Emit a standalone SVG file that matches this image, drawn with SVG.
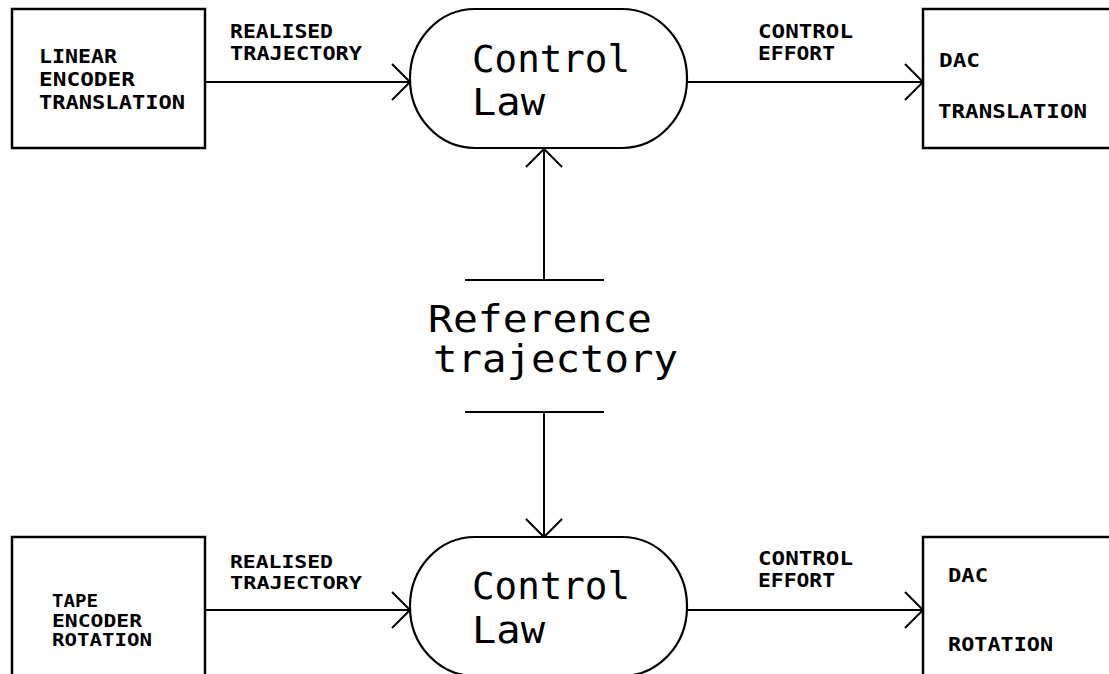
<svg xmlns="http://www.w3.org/2000/svg" width="1109" height="674" viewBox="0 0 1109 674">
<style>
.box{fill:none;stroke:#000;stroke-width:2.5}
.pill{fill:#fff;stroke:#000;stroke-width:2.2}
.ln{fill:none;stroke:#000;stroke-width:2}
.lbl{font-family:"DejaVu Sans Mono","Liberation Mono",monospace;font-weight:bold;font-size:20px;fill:#000}
.sm{font-size:17px}
.md{font-size:18.5px}
.big{font-family:"DejaVu Sans Mono","Liberation Mono",monospace;font-size:37px;fill:#000}
</style>
<defs>
<marker id="arr" markerWidth="24" markerHeight="40" refX="20" refY="20" orient="auto" markerUnits="userSpaceOnUse">
<path d="M2,2 L20,20 L2,38" fill="none" stroke="#000" stroke-width="2"/>
</marker>
</defs>
<rect width="1109" height="674" fill="#fff"/>
<g id="connectors">
<line class="ln" x1="205" y1="82" x2="410" y2="82" marker-end="url(#arr)"/>
<line class="ln" x1="687" y1="82" x2="923" y2="82" marker-end="url(#arr)"/>
<line class="ln" x1="544" y1="280" x2="544" y2="149" marker-end="url(#arr)"/>
<line class="ln" x1="544" y1="412" x2="544" y2="537" marker-end="url(#arr)"/>
<line class="ln" x1="205" y1="610" x2="410" y2="610" marker-end="url(#arr)"/>
<line class="ln" x1="687" y1="610" x2="923" y2="610" marker-end="url(#arr)"/>
<text class="lbl" x="230" y="38" textLength="103" lengthAdjust="spacingAndGlyphs">REALISED</text>
<text class="lbl" x="230" y="60" textLength="132" lengthAdjust="spacingAndGlyphs">TRAJECTORY</text>
<text class="lbl" x="758" y="38" textLength="95" lengthAdjust="spacingAndGlyphs">CONTROL</text>
<text class="lbl" x="758" y="60" textLength="77" lengthAdjust="spacingAndGlyphs">EFFORT</text>
<text class="lbl md" x="230" y="568" textLength="103" lengthAdjust="spacingAndGlyphs">REALISED</text>
<text class="lbl md" x="230" y="589" textLength="132" lengthAdjust="spacingAndGlyphs">TRAJECTORY</text>
<text class="lbl" x="758" y="565" textLength="95" lengthAdjust="spacingAndGlyphs">CONTROL</text>
<text class="lbl" x="758" y="587" textLength="77" lengthAdjust="spacingAndGlyphs">EFFORT</text>
</g>
<g id="ref-trajectory">
<line class="ln" x1="465" y1="280" x2="604" y2="280"/>
<line class="ln" x1="465" y1="412" x2="604" y2="412"/>
<text class="big" x="428" y="332" textLength="224" lengthAdjust="spacingAndGlyphs">Reference</text>
<text class="big" x="433" y="372" textLength="245" lengthAdjust="spacingAndGlyphs">trajectory</text>
</g>
<g id="linear-encoder">
<rect class="box" x="12" y="9" width="193" height="139"/>
<text class="lbl" x="39" y="63" textLength="78" lengthAdjust="spacingAndGlyphs">LINEAR</text>
<text class="lbl" x="39" y="86" textLength="96" lengthAdjust="spacingAndGlyphs">ENCODER</text>
<text class="lbl" x="39" y="109" textLength="146" lengthAdjust="spacingAndGlyphs">TRANSLATION</text>
</g>
<g id="control-law-top">
<rect class="pill" x="410" y="9" width="277" height="139" rx="65" ry="69"/>
<text class="big" x="472" y="72" textLength="158" lengthAdjust="spacingAndGlyphs">Control</text>
<text class="big" x="472" y="115" textLength="73" lengthAdjust="spacingAndGlyphs">Law</text>
</g>
<g id="dac-translation">
<rect class="box" x="923" y="9" width="200" height="139"/>
<text class="lbl" x="939" y="67" textLength="41" lengthAdjust="spacingAndGlyphs">DAC</text>
<text class="lbl" x="938" y="118" textLength="149" lengthAdjust="spacingAndGlyphs">TRANSLATION</text>
</g>
<g id="tape-encoder">
<rect class="box" x="12" y="537" width="193" height="150"/>
<text class="lbl sm" x="52" y="607" textLength="46" lengthAdjust="spacingAndGlyphs">TAPE</text>
<text class="lbl sm" x="52" y="627" textLength="90" lengthAdjust="spacingAndGlyphs">ENCODER</text>
<text class="lbl sm" x="52" y="646" textLength="100" lengthAdjust="spacingAndGlyphs">ROTATION</text>
</g>
<g id="control-law-bottom">
<rect class="pill" x="410" y="537" width="277" height="139" rx="65" ry="69"/>
<text class="big" x="472" y="599" textLength="158" lengthAdjust="spacingAndGlyphs">Control</text>
<text class="big" x="472" y="643" textLength="73" lengthAdjust="spacingAndGlyphs">Law</text>
</g>
<g id="dac-rotation">
<rect class="box" x="923" y="537" width="200" height="150"/>
<text class="lbl" x="948" y="582" textLength="40" lengthAdjust="spacingAndGlyphs">DAC</text>
<text class="lbl" x="948" y="651" textLength="105" lengthAdjust="spacingAndGlyphs">ROTATION</text>
</g>
</svg>
